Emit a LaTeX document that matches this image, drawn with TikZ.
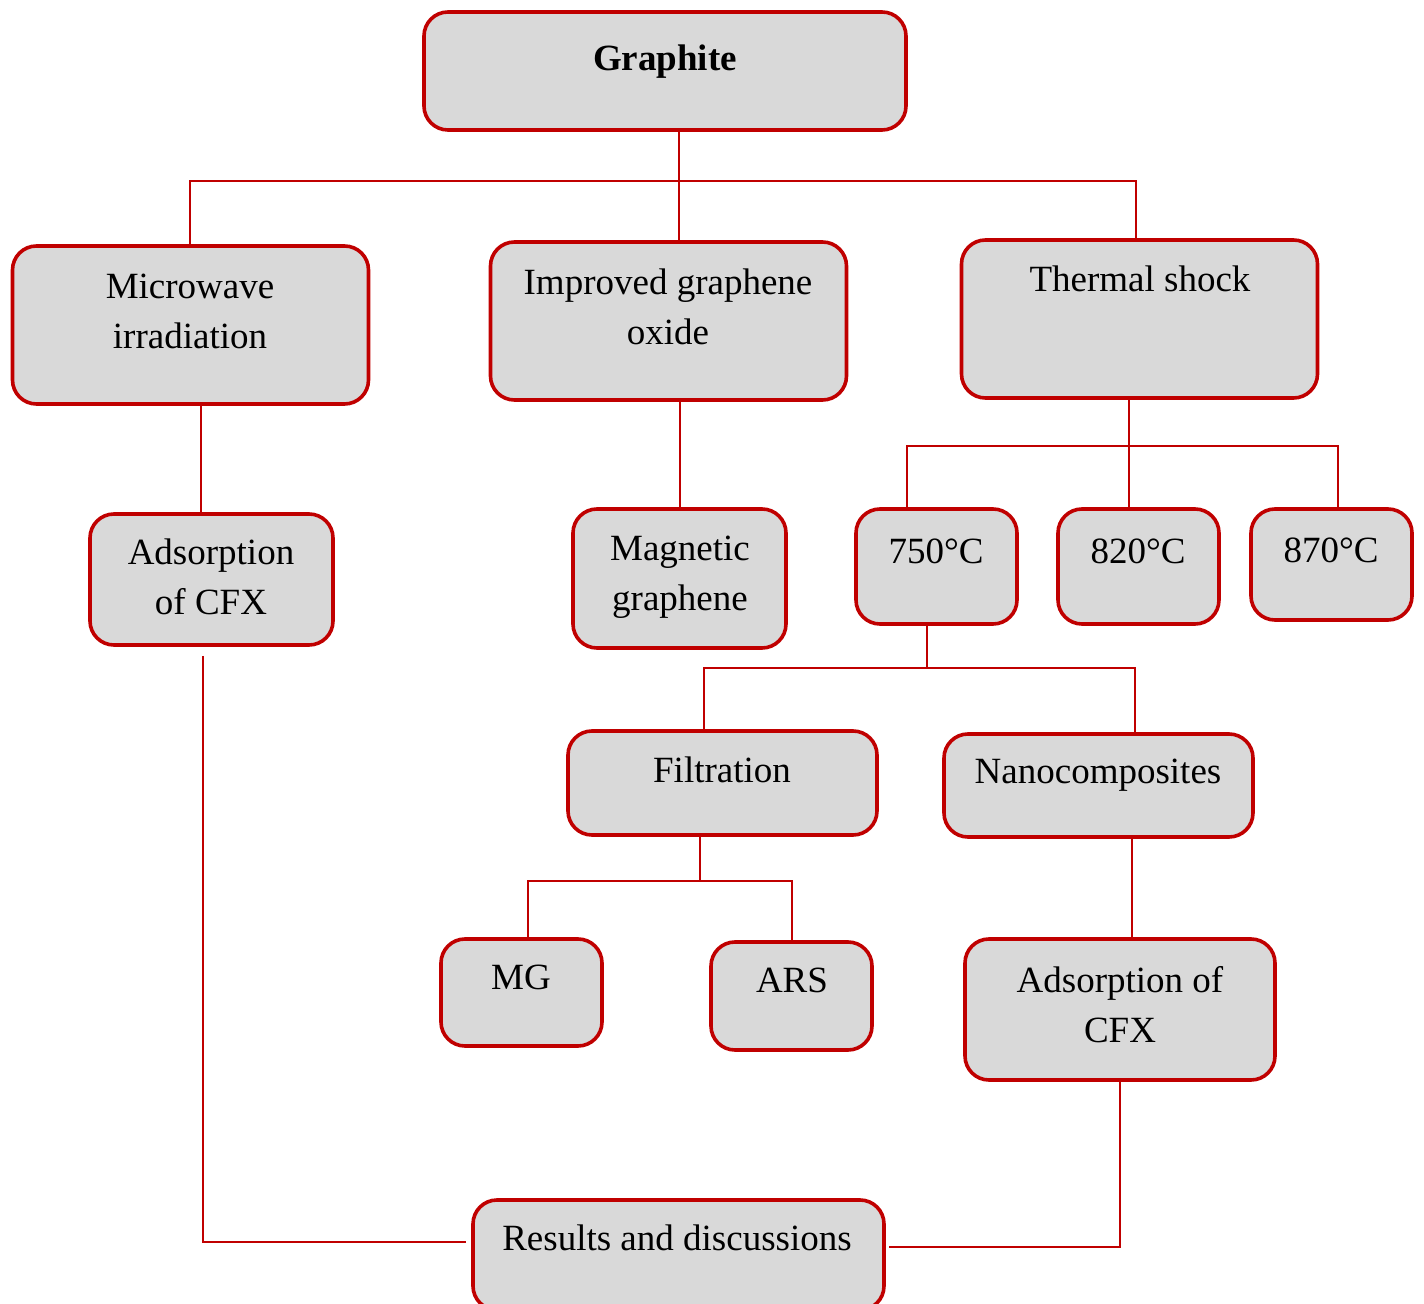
\documentclass[tikz,border=0pt]{standalone}
\usepackage{fontspec}
\setmainfont{Liberation Serif}
\usetikzlibrary{positioning}
\definecolor{boxred}{HTML}{C00000}
\definecolor{boxgray}{HTML}{D9D9D9}
\tikzset{
  box/.style={draw=boxred, fill=boxgray, line width=1.8pt, rounded corners=12pt, inner sep=0pt},
  lbl/.style={font=\fontsize{18.5}{25}\selectfont, align=center, inner sep=0pt},
  link/.style={draw=boxred, line width=1pt}
}
\begin{document}
\begin{tikzpicture}[x=0.5pt,y=-0.5pt]
  \clip (0,0) rectangle (1424,1304);
  % boxes
  \node[box, minimum width=241pt, minimum height=59pt] (gr) at (665,71) {};
  \node[box, minimum width=178pt, minimum height=79pt] (mw) at (190.5,325) {};
  \node[box, minimum width=178pt, minimum height=79pt] (igo) at (668.5,321) {};
  \node[box, minimum width=178pt, minimum height=79pt] (ts) at (1139.5,319) {};
  \node[box, minimum width=121.5pt, minimum height=65.5pt] (ad1) at (211.5,579.5) {};
  \node[box, minimum width=106.5pt, minimum height=69.5pt] (mag) at (679.5,578.5) {};
  \node[box, minimum width=80.5pt, minimum height=57.5pt] (t750) at (936.5,566.5) {};
  \node[box, minimum width=80.5pt, minimum height=57.5pt] (t820) at (1138.5,566.5) {};
  \node[box, minimum width=80.5pt, minimum height=55.5pt] (t870) at (1331.5,564.5) {};
  \node[box, minimum width=154.5pt, minimum height=52pt] (fil) at (722.5,783) {};
  \node[box, minimum width=154.5pt, minimum height=51.5pt] (nano) at (1098.5,785.5) {};
  \node[box, minimum width=80.5pt, minimum height=53.5pt] (mg) at (521.5,992.5) {};
  \node[box, minimum width=80.5pt, minimum height=54pt] (ars) at (791.5,996) {};
  \node[box, minimum width=155pt, minimum height=70.5pt] (ad2) at (1120,1009.5) {};
  \node[box, minimum width=205.5pt, minimum height=55pt] (res) at (678.5,1255) {};
  % texts
  \node[lbl, font=\fontsize{18.5}{25}\selectfont\bfseries] (grt) at (665,62) {Graphite};
  \node[lbl] (mwt) at (190,311) {Microwave\\irradiation};
  \node[lbl] (igot) at (668,307) {Improved graphene\\oxide};
  \node[lbl] (tst) at (1140,279) {Thermal shock};
  \node[lbl] (ad1t) at (211,577) {Adsorption\\of CFX};
  \node[lbl] (magt) at (680,577) {Magnetic\\graphene};
  \node[lbl] (t750t) at (936,551) {750°C};
  \node[lbl] (t820t) at (1138,551) {820°C};
  \node[lbl] (t870t) at (1331,550) {870°C};
  \node[lbl] (filt) at (722,770) {Filtration};
  \node[lbl] (nanot) at (1098,775) {Nanocomposites};
  \node[lbl] (mgt) at (521,977) {MG};
  \node[lbl] (arst) at (792,980) {ARS};
  \node[lbl] (ad2t) at (1120,1005) {Adsorption of\\CFX};
  \node[lbl] (rest) at (677,1238) {Results and discussions};
  % junctions
  \coordinate (top) at (679,181);
  \coordinate (topl) at (190,181);
  \coordinate (topr) at (1136,181);
  \coordinate (mwx) at (201,0);
  \coordinate (tsx) at (1129,446);
  \coordinate (tl) at (907,446);
  \coordinate (tr) at (1338,446);
  \coordinate (mid) at (927,668);
  \coordinate (midl) at (704,668);
  \coordinate (midr) at (1135,668);
  \coordinate (flt) at (700,881);
  \coordinate (fltl) at (528,881);
  \coordinate (fltr) at (792,881);
  \coordinate (nx) at (1132,0);
  \coordinate (lx) at (203,1242);
  \coordinate (rx) at (1120,1247);
  % connectors
  \draw[link] (gr.south -| top) -- (igo.north -| top);
  \draw[link] (mw.north -| topl) -- (topl) -- (topr) -- (ts.north -| topr);
  \draw[link] (mw.south -| mwx) -- (ad1.north -| mwx);
  \draw[link] (igo.south -| mag.north) -- (mag.north);
  \draw[link] (ts.south -| tsx) -- (t820.north -| tsx);
  \draw[link] (t750.north -| tl) -- (tl) -- (tr) -- (t870.north -| tr);
  \draw[link] (t750.south -| mid) -- (mid);
  \draw[link] (fil.north -| midl) -- (midl) -- (midr) -- (nano.north -| midr);
  \draw[link] (fil.south -| flt) -- (flt);
  \draw[link] (mg.north -| fltl) -- (fltl) -- (fltr) -- (ars.north -| fltr);
  \draw[link] (nano.south -| nx) -- (ad2.north -| nx);
  \draw[link] ([yshift=-4.5pt]ad1.south -| lx) -- (lx) -- ([xshift=-2.5pt]res.west |- lx);
  \draw[link] (ad2.south -| rx) -- (rx) -- ([xshift=1.5pt]res.east |- rx);
\end{tikzpicture}
\end{document}
